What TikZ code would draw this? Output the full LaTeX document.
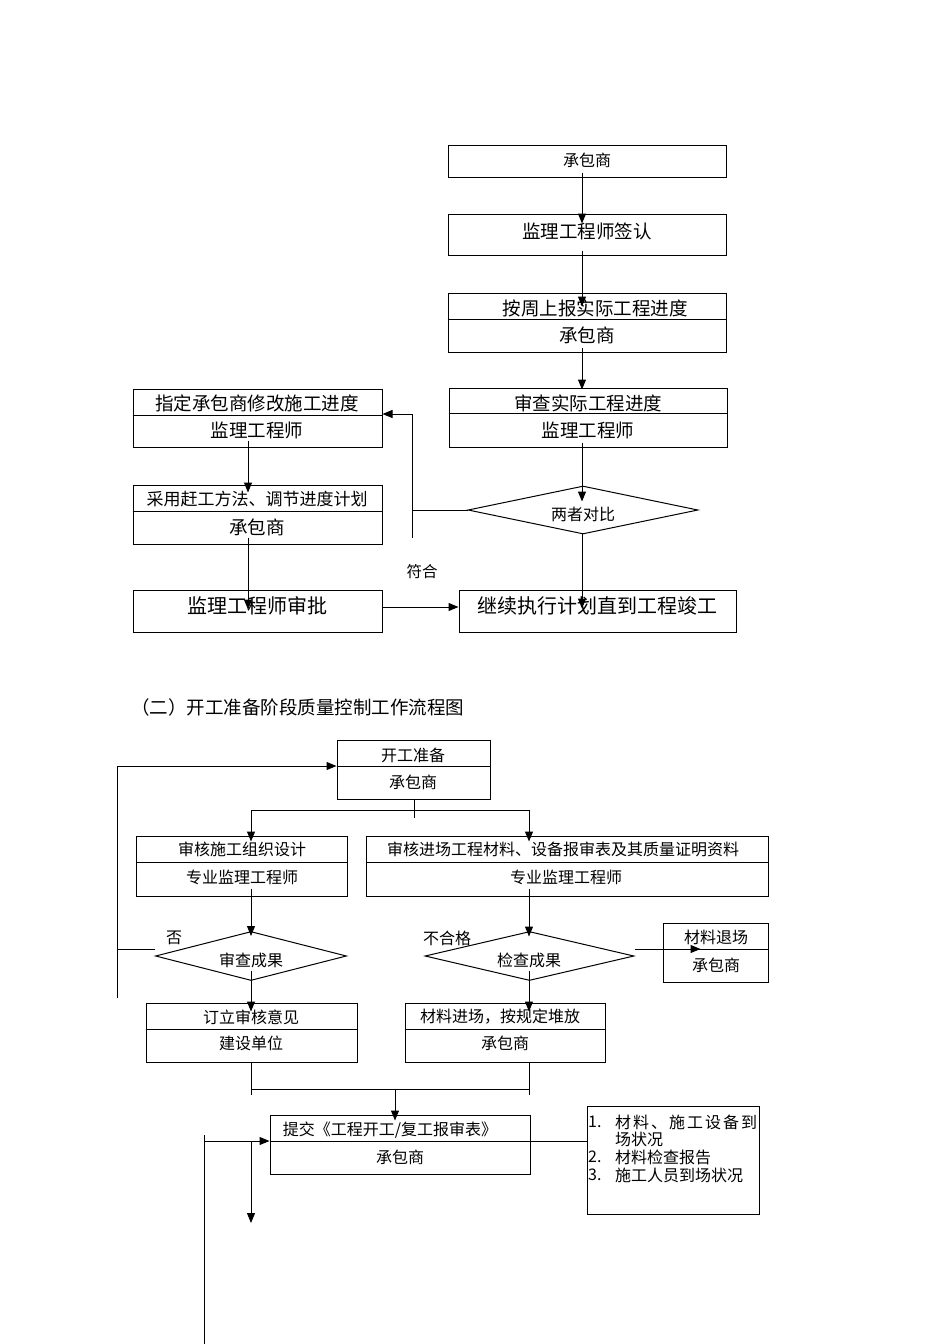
\documentclass[tikz,border=0pt]{standalone}
\usepackage{fontspec}
\setmainfont{Noto Sans CJK SC}
\usetikzlibrary{arrows.meta,shapes.geometric,calc}
\tikzset{
  ln/.style={draw=black, line width=1pt},
  arr/.style={ln, -{Triangle[length=10pt,width=8pt]}},
  box/.style={ln, rectangle, inner sep=0pt},
  dia/.style={ln, diamond, inner sep=0pt},
  ta/.style={inner sep=0pt, font=\fontsize{16}{18}\selectfont},
  tb/.style={inner sep=0pt, font=\fontsize{18.5}{20}\selectfont},
  tc/.style={inner sep=0pt, font=\fontsize{20}{22}\selectfont},
}
\begin{document}
\begin{tikzpicture}[x=1pt,y=-1pt]
\useasboundingbox[fill=white] (0,0) rectangle (950,1344);

% ---------------- top flow ----------------
\node[box, minimum width=278pt, minimum height=32pt] (b1) at (587,161) {};
\node[ta] (t1) at (587,160) {承包商};

\node[box, minimum width=278pt, minimum height=41pt] (b2) at (587,234.5) {};
\node[tb] (t2) at (587,231) {监理工程师签认};

\node[box, minimum width=278pt, minimum height=59pt] (b3) at (587,322.5) {};
\draw[ln] (b3.west |- 0,319) -- (b3.east |- 0,319);
\node[tb] (t3a) at (595,308) {按周上报实际工程进度};
\node[tb] (t3b) at (587,335) {承包商};

\node[box, minimum width=278pt, minimum height=59pt] (b4) at (588,417.5) {};
\draw[ln] (b4.west |- 0,413) -- (b4.east |- 0,413);
\node[tb] (t4a) at (588,403) {审查实际工程进度};
\node[tb] (t4b) at (588,430) {监理工程师};

\node[dia, minimum width=230pt, minimum height=48pt] (d1) at (583,510) {};
\node[ta] (td1) at (583,514) {两者对比};

\node[box, minimum width=277pt, minimum height=42pt] (bE) at (597.5,611) {};
\node[tc] (tE) at (597,606) {继续执行计划直到工程竣工};

\node[box, minimum width=249pt, minimum height=58pt] (bA) at (257.5,418) {};
\draw[ln] (bA.west |- 0,415) -- (bA.east |- 0,415);
\node[tb] (tAa) at (257,403) {指定承包商修改施工进度};
\node[tb] (tAb) at (257,430) {监理工程师};

\node[box, minimum width=249pt, minimum height=59pt] (bC) at (257.5,514.5) {};
\draw[ln] (bC.west |- 0,511) -- (bC.east |- 0,511);
\node[inner sep=0pt, font=\fontsize{17}{19}\selectfont] (tCa) at (257,499) {采用赶工方法、调节进度计划};
\node[tb] (tCb) at (257,527) {承包商};

\node[box, minimum width=249pt, minimum height=42pt] (bD) at (257.5,611) {};
\node[tc] (tD) at (257,606) {监理工程师审批};

\node[inner sep=0pt, font=\fontsize{15.5}{17}\selectfont] (lfh) at (422,572) {符合};

\draw[arr] ($(b1.south)+(-5,-5)$) -- ($(b2.north)+(-5,10)$);
\draw[arr] ($(b2.south)+(-5,-5)$) -- ($(b3.north)+(-5,14)$);
\draw[arr] ($(b3.south)+(-5,-5)$) -- ($(b4.north)+(-6,2)$);
\draw[arr] ($(b4.south)+(-6,-5)$) -- ($(d1.north)+(-1,16)$);
\draw[arr] ($(d1.south)+(-1,-1)$) -- ($(bE.north)+(-15.5,19)$);
\draw[arr] ($(bA.south)+(-9.5,-7)$) -- ($(bC.north)+(-9.5,8)$);
\draw[arr] ($(bC.south)+(-9.5,-7)$) -- ($(bD.north)+(-9.5,20)$);
\draw[arr] ($(bD.east)+(0,-4)$) -- ($(bE.west)+(0,-4)$);

\coordinate (c1) at (412,538);
\coordinate (c2) at (412,414);
\draw[ln] (d1.west) -- (d1.west -| c1);
\draw[arr] (c1) -- (c2) -- (c2 -| bA.east);

% ---------------- title ----------------
\node[inner sep=0pt, anchor=west, font=\fontsize{18.5}{20}\selectfont] (title) at (131,707) {（二）开工准备阶段质量控制工作流程图};

% ---------------- second flow ----------------
\node[box, minimum width=153pt, minimum height=59pt] (bS) at (413.5,769.5) {};
\draw[ln] (bS.west |- 0,766) -- (bS.east |- 0,766);
\node[ta] (tSa) at (413,755) {开工准备};
\node[ta] (tSb) at (413,782) {承包商};

\node[box, minimum width=211pt, minimum height=60pt] (bL1) at (241.5,866) {};
\draw[ln] (bL1.west |- 0,862) -- (bL1.east |- 0,862);
\node[ta] (tL1a) at (242,849) {审核施工组织设计};
\node[ta] (tL1b) at (242,877) {专业监理工程师};

\node[box, minimum width=402pt, minimum height=60pt] (bR1) at (567,866) {};
\draw[ln] (bR1.west |- 0,862) -- (bR1.east |- 0,862);
\node[ta] (tR1a) at (563,849) {审核进场工程材料、设备报审表及其质量证明资料};
\node[ta] (tR1b) at (566,877) {专业监理工程师};

\node[dia, minimum width=191pt, minimum height=49pt] (dL) at (251,956) {};
\node[ta] (tdL) at (251,960) {审查成果};
\node[dia, minimum width=209pt, minimum height=49pt] (dR) at (529.5,956) {};
\node[ta] (tdR) at (529,960) {检查成果};
\node[ta] (lno) at (174,938) {否};
\node[ta] (lbhg) at (447,938) {不合格};

\node[box, minimum width=105pt, minimum height=59pt] (bM) at (715.5,952.5) {};
\draw[ln] (bM.west |- 0,949) -- (bM.east |- 0,949);
\node[ta] (tMa) at (716,937) {材料退场};
\node[ta] (tMb) at (716,965) {承包商};

\node[box, minimum width=211pt, minimum height=59pt] (bL2) at (251.5,1032.5) {};
\draw[ln] (bL2.west |- 0,1029) -- (bL2.east |- 0,1029);
\node[ta] (tL2a) at (251,1017) {订立审核意见};
\node[ta] (tL2b) at (251,1043) {建设单位};

\node[box, minimum width=200pt, minimum height=59pt] (bR2) at (505,1032.5) {};
\draw[ln] (bR2.west |- 0,1029) -- (bR2.east |- 0,1029);
\node[ta] (tR2a) at (500,1017) {材料进场，按规定堆放};
\node[ta] (tR2b) at (505,1043) {承包商};

\node[box, minimum width=260pt, minimum height=59pt] (bT) at (400,1144.5) {};
\draw[ln] (bT.west |- 0,1141) -- (bT.east |- 0,1141);
\node[ta] (tTa) at (390,1130) {提交《工程开工/复工报审表》};
\node[ta] (tTb) at (400,1157) {承包商};

\node[box, minimum width=172pt, minimum height=108pt] (bList) at (673,1160) {};
\node[ta, anchor=west] (n1) at (588,1122) {1.};
\node[ta, anchor=west] (l1) at (615,1122) {\makebox[142pt][s]{材\hfil 料\hfil 、\hfil 施\hfil 工\hfil 设\hfil 备\hfil 到}};
\node[ta, anchor=west] (l1b) at (615,1139) {场状况};
\node[ta, anchor=west] (n2) at (588,1157) {2.};
\node[ta, anchor=west] (l2) at (615,1157) {材料检查报告};
\node[ta, anchor=west] (n3) at (588,1175) {3.};
\node[ta, anchor=west] (l3) at (615,1175) {施工人员到场状况};

% connectors
\coordinate (jL) at (251,810);
\coordinate (jR) at (529,810);
\draw[ln] ($(bS.south)+(0.5,0)$) -- ++(0,18);
\draw[ln] (jL) -- (jR);
\draw[arr] (jL) -- ($(jL |- bL1.north)+(0,6)$);
\draw[arr] (jR) -- ($(jR |- bR1.north)+(0,6)$);

\draw[arr] ($(bL1.south)+(9.5,-8)$) -- ($(dL.north)+(0,5)$);
\draw[arr] ($(bR1.south)+(-38,-8)$) -- ($(dR.north)+(-0.5,5.5)$);
\draw[arr] ($(dL.south)+(0,-10.5)$) -- ($(bL2.north)+(-0.5,9)$);
\draw[arr] ($(dR.south)+(-0.5,-10.5)$) -- ($(bR2.north)+(24,9)$);
\draw[arr] ($(dR.east)+(0,-7)$) -- ($(bM.west)+(38,-3.5)$);

\coordinate (f1) at (117,998);
\coordinate (f2) at (117,766);
\draw[arr] (f1) -- (f2) -- (f2 -| bS.west);
\coordinate (f3) at ($(dL.west)+(0,-7)$);
\draw[ln] (f3) -- (f3 -| f1);

\coordinate (mL) at (251,1089);
\coordinate (mR) at (529,1089);
\coordinate (mC) at (395,1089);
\draw[ln] (bL2.south -| mL) -- ($(mL)+(0,6)$);
\draw[ln] (bR2.south -| mR) -- ($(mR)+(0,6)$);
\draw[ln] (mL) -- (mR);
\draw[arr] (mC) -- ($(mC |- bT.north)+(0,6)$);

\coordinate (lk) at (530,1141);
\draw[ln] (bT.east |- lk) -- (bList.west |- lk);

\coordinate (g1) at (204,1135);
\coordinate (g2) at (204,1344);
\draw[ln] (g1) -- (g2);
\coordinate (g3) at (204,1141);
\draw[arr] (g3) -- (g3 -| bT.west);
\coordinate (g4) at (251,1141);
\coordinate (g5) at (251,1223);
\draw[arr] (g4) -- (g5);
\end{tikzpicture}
\end{document}
